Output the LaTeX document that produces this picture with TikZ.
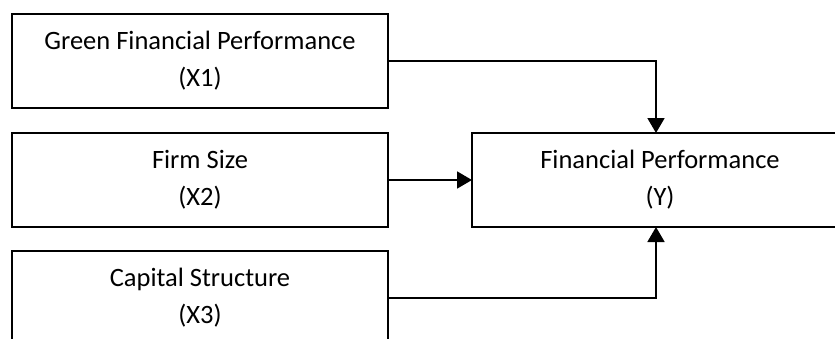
\documentclass[tikz,border=0pt]{standalone}
\usepackage{fontspec}
\setmainfont{Carlito}
\usetikzlibrary{arrows.meta}
\begin{document}
\begin{tikzpicture}[x=1pt,y=-1pt,
  box/.style={draw, line width=1.8pt, minimum width=376pt, minimum height=94pt, inner sep=0pt, outer sep=0pt, align=center, font=\fontsize{26.5}{37}\selectfont},
  conn/.style={line width=1.8pt, -{Triangle[width=17pt,length=15pt]}}]
\useasboundingbox (0,0) rectangle (835,338);
\clip (0,0) rectangle (835,338);
\node[box] (x1) at (200,61) {Green Financial Performance\\(X1)};
\node[box] (x2) at (200,180) {Firm Size\\(X2)};
\node[box] (x3) at (200,298) {Capital Structure\\(X3)};
\node[box] (y) at (660,180) {Financial Performance\\(Y)};
\draw[conn] (x1.east) -| ([xshift=-4pt]y.north);
\draw[conn] (x2.east) -- (y.west);
\draw[conn] (x3.east) -| ([xshift=-4pt]y.south);
\end{tikzpicture}
\end{document}
